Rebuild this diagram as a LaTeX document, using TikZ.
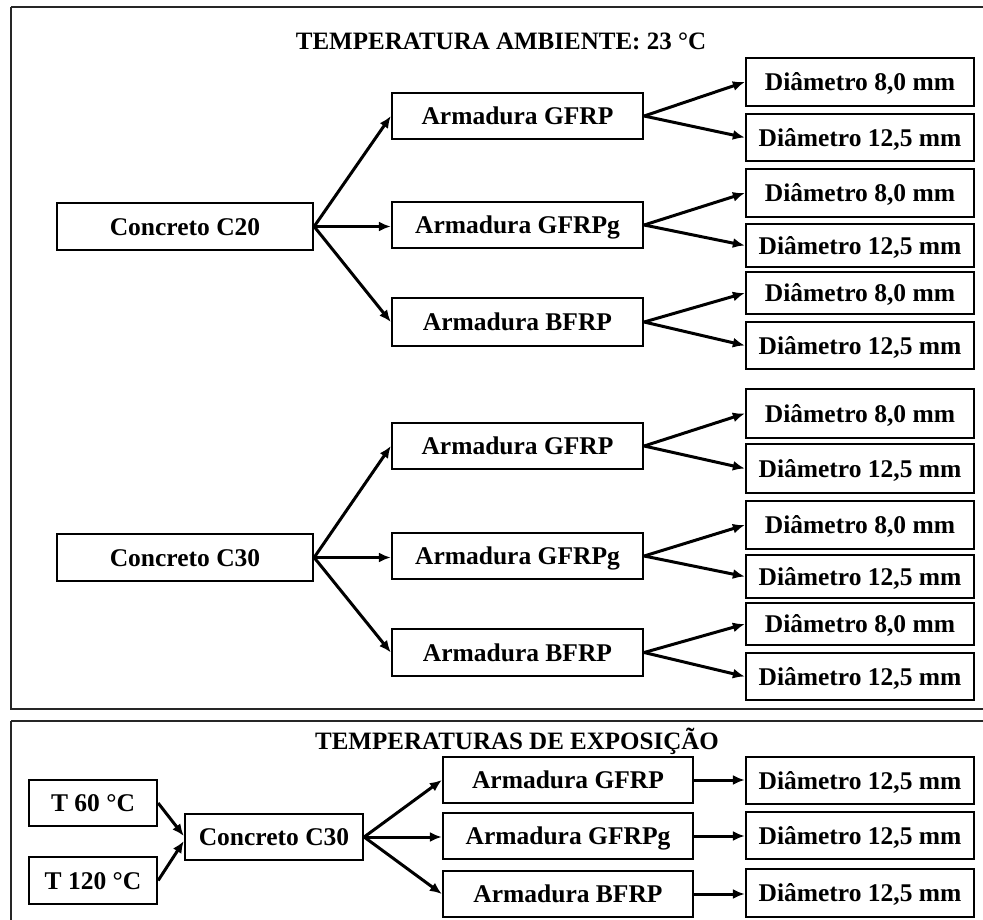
\documentclass[tikz,border=0pt]{standalone}
\usepackage{fontspec}
\setmainfont{Liberation Serif}
\usetikzlibrary{arrows.meta}
\tikzset{
  box/.style={draw=black, line width=2.3pt, inner sep=0pt, text height=17pt, text depth=0pt,
    font=\bfseries\fontsize{25.5}{30}\selectfont, fill=white},
  ttl/.style={inner sep=0pt, text height=17pt, text depth=0pt, font=\bfseries\fontsize{25}{30}\selectfont},
  arr/.style={line width=3pt, -{Latex[length=12pt,width=10pt]}},
  frame/.style={line width=2.3pt, draw=black!85}
}
\newcommand\bx[6]{\node[box, minimum width={#4-#2}, minimum height={#5-#3}] (#1) at ({(#2+#4)/2},{(#3+#5)/2}) {#6};}
\begin{document}
\begin{tikzpicture}[x=1pt,y=-1pt]
\useasboundingbox (0,0) rectangle (983,919);
\fill[white] (0,0) rectangle (983,919);
% frames
\draw[frame] (11,7) -- (995,7) (11,7) -- (11,709) -- (995,709);
\draw[frame] (11,721) -- (995,721) (11,721) -- (11,930);
% titles
\node[ttl] (t1) at (501,41) {TEMPERATURA AMBIENTE: 23 °C};
\node[ttl] (t2) at (517,741) {TEMPERATURAS DE EXPOSIÇÃO};
% top section
\bx{C20}{57}{203}{313}{250}{Concreto C20}
\bx{C30}{57}{534}{313}{581}{Concreto C30}
\bx{G1}{392}{93}{643}{139}{Armadura GFRP}
\bx{Gg1}{392}{202}{643}{248}{Armadura GFRPg}
\bx{B1}{392}{298}{643}{346}{Armadura BFRP}
\bx{G2}{392}{423}{643}{469}{Armadura GFRP}
\bx{Gg2}{392}{533}{643}{579}{Armadura GFRPg}
\bx{B2}{392}{629}{643}{676}{Armadura BFRP}
\bx{a1}{746}{58}{974}{106}{Diâmetro 8,0 mm}
\bx{a2}{746}{114}{974}{161}{Diâmetro 12,5 mm}
\bx{b1}{746}{169}{974}{217}{Diâmetro 8,0 mm}
\bx{b2}{746}{224}{974}{267}{Diâmetro 12,5 mm}
\bx{c1}{746}{272}{974}{314}{Diâmetro 8,0 mm}
\bx{c2}{746}{322}{974}{369}{Diâmetro 12,5 mm}
\bx{d1}{746}{389}{974}{438}{Diâmetro 8,0 mm}
\bx{d2}{746}{444}{974}{493}{Diâmetro 12,5 mm}
\bx{e1}{746}{501}{974}{549}{Diâmetro 8,0 mm}
\bx{e2}{746}{555}{974}{598}{Diâmetro 12,5 mm}
\bx{f1}{746}{603}{974}{645}{Diâmetro 8,0 mm}
\bx{f2}{746}{653}{974}{700}{Diâmetro 12,5 mm}
\foreach \s/\t in {C20/G1, C20/B1, C30/G2, C30/B2,
  G1/a1, G1/a2, Gg1/b1, Gg1/b2, B1/c1, B1/c2,
  G2/d1, G2/d2, Gg2/e1, Gg2/e2, B2/f1, B2/f2}
  \draw[arr] (\s.east) -- (\t.west);
\draw[arr] (C20.east) -- (C20.east -| Gg1.west);
\draw[arr] (C30.east) -- (C30.east -| Gg2.west);
% bottom section
\bx{T60}{29}{780}{157}{826}{T 60 °C}
\bx{T120}{29}{857}{157}{904}{T 120 °C}
\bx{CB}{185}{814}{363}{860}{Concreto C30}
\bx{GB}{443}{757}{693}{803}{Armadura GFRP}
\bx{GgB}{443}{813}{693}{859}{Armadura GFRPg}
\bx{BB}{443}{871}{693}{917}{Armadura BFRP}
\bx{DB1}{746}{757}{974}{804}{Diâmetro 12,5 mm}
\bx{DB2}{746}{812}{974}{859}{Diâmetro 12,5 mm}
\bx{DB3}{746}{869}{974}{917}{Diâmetro 12,5 mm}
\draw[arr] (T60.east) -- ([yshift=1pt]CB.west);
\draw[arr] (T120.east) -- ([yshift=-4pt]CB.west);
\draw[arr] (CB.east) -- (GB.west);
\draw[arr] (CB.east) -- (CB.east -| GgB.west);
\draw[arr] (CB.east) -- (BB.west);
\draw[arr] (GB.east) -- (GB.east -| DB1.west);
\draw[arr] (GgB.east) -- (GgB.east -| DB2.west);
\draw[arr] (BB.east) -- (BB.east -| DB3.west);
\end{tikzpicture}
\end{document}
